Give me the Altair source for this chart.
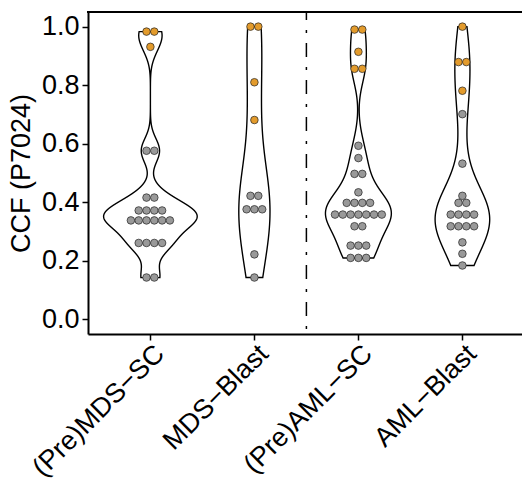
import json
import numpy as np
import pandas as pd
import altair as alt

categories = ["(Pre)MDS\u2212SC", "MDS\u2212Blast", "(Pre)AML\u2212SC", "AML\u2212Blast"]

pre_mds_sc = [0.983, 0.983, 0.931, 0.576, 0.576, 0.416, 0.416,
              0.372, 0.372, 0.372, 0.372,
              0.338, 0.338, 0.338, 0.338, 0.338, 0.338,
              0.261, 0.261, 0.261, 0.261, 0.143, 0.143]
pre_mds_sc_orange = 3

mds_blast = [1.0, 1.0, 0.81, 0.681, 0.422, 0.422, 0.376, 0.376, 0.376, 0.222, 0.143]
mds_blast_orange = 4

pre_aml_sc = [0.99, 0.99, 0.914, 0.856, 0.856, 0.593, 0.551, 0.497, 0.497, 0.434,
              0.398, 0.398, 0.398, 0.398,
              0.358, 0.358, 0.358, 0.358, 0.358, 0.358, 0.358,
              0.318, 0.318, 0.252, 0.252, 0.252, 0.21, 0.21, 0.21]
pre_aml_sc_orange = 5

aml_blast = [1.0, 0.879, 0.879, 0.781, 0.701, 0.532, 0.422, 0.398, 0.398,
             0.358, 0.358, 0.358, 0.358, 0.318, 0.318, 0.318, 0.318,
             0.263, 0.224, 0.184]
aml_blast_orange = 4

groups = [pre_mds_sc, mds_blast, pre_aml_sc, aml_blast]
n_orange = [pre_mds_sc_orange, mds_blast_orange, pre_aml_sc_orange, aml_blast_orange]
separator = [2.5]
y_ticks = [0.0, 0.2, 0.4, 0.6, 0.8, 1.0]


def nrd0(v):
    v = np.asarray(v, dtype=float)
    sd = v.std(ddof=1)
    iqr = np.subtract(*np.percentile(v, [75, 25]))
    lo = min(sd, iqr / 1.34) if iqr > 0 else sd
    return 0.9 * lo * len(v) ** -0.2


rows = []
for i, (cat, vals, no) in enumerate(zip(categories, groups, n_orange)):
    bw = nrd0(vals)
    for j, v in enumerate(vals):
        rows.append({"cat": cat, "idx": i + 1, "value": v, "bw": bw,
                     "status": "clonal" if j < no else "sub"})
df = pd.DataFrame(rows)

W, H = 434, 322
FONT = "Liberation Sans"
FS = 27

xscale = alt.Scale(domain=[0.4, 0.4 + W / 104.0], nice=False, zero=False)
yscale = alt.Scale(domain=[-0.05, 1.05], nice=False, zero=False)

label_expr = json.dumps(categories, ensure_ascii=False) + "[datum.value - 1]"

base = alt.Chart(df)

violin = base.transform_joinaggregate(
    vmin="min(value)", vmax="max(value)", groupby=["cat"]
).transform_calculate(
    v="datum.value / datum.bw"
).transform_density(
    "v", groupby=["cat", "idx", "bw", "vmin", "vmax"], bandwidth=1,
    steps=3000, as_=["v", "dens"]
).transform_calculate(
    yy="datum.v * datum.bw", d="datum.dens / datum.bw"
).transform_filter(
    "datum.yy >= datum.vmin - 0.0005 && datum.yy <= datum.vmax + 0.0005"
).transform_joinaggregate(
    dmax="max(d)"
).transform_calculate(
    xl="datum.idx - 0.45 * datum.d / datum.dmax",
    xr="datum.idx + 0.45 * datum.d / datum.dmax",
).mark_area(
    orient="horizontal", fill="white", stroke="black", strokeWidth=1.4
).encode(
    y=alt.Y("yy:Q", scale=yscale,
            axis=alt.Axis(values=y_ticks, format=".1f", title="CCF (P7024)")),
    x=alt.X("xl:Q", scale=xscale,
            axis=alt.Axis(values=[1, 2, 3, 4], labelExpr=label_expr, title=None,
                          labelOverlap=False)),
    x2="xr:Q",
    detail="cat:N",
)

dots = base.transform_joinaggregate(
    cnt="count()", groupby=["cat", "value"]
).transform_window(
    rk="row_number()", groupby=["cat", "value"]
).transform_calculate(
    xd="datum.idx + (datum.rk - (datum.cnt + 1) / 2) * 0.075"
).mark_point(
    filled=True, size=58, stroke="#222222", strokeWidth=0.7, opacity=1
).encode(
    x=alt.X("xd:Q", scale=xscale),
    y=alt.Y("value:Q", scale=yscale),
    fill=alt.Fill("status:N", scale=alt.Scale(domain=["clonal", "sub"],
                                              range=["#E39B2C", "#999999"]),
                  legend=None),
)

vline = alt.Chart(pd.DataFrame({"x": separator})).mark_rule(
    color="black", strokeWidth=1.5, strokeDash=[3, 10, 14, 10], strokeDashOffset=19
).encode(x=alt.X("x:Q", scale=xscale))

top = alt.Chart(pd.DataFrame({"x": separator})).mark_rule(
    color="black", strokeWidth=2
).encode(x=alt.value(-1), x2=alt.value(W), y=alt.value(0))

chart = alt.layer(violin, vline, dots, top).properties(
    width=W, height=H,
    autosize=alt.AutoSizeParams(type="none"),
    padding={"left": 88, "top": 12, "right": 0, "bottom": 482 - 12 - H},
).configure_view(stroke=None).configure_axis(
    grid=False, domainColor="black", domainWidth=2, tickColor="black",
    tickWidth=1.5, tickSize=6, labelColor="black", labelFont=FONT,
    labelFontSize=FS, titleFont=FONT, titleFontSize=FS, titleColor="black",
    titleFontWeight="normal",
).configure_axisY(
    labelPadding=3, titlePadding=6,
).configure_axisX(
    labelAngle=315, labelAlign="right", labelBaseline="top", labelPadding=0,
)

chart.save("out.html", embed_options={"renderer": "svg", "actions": False})
